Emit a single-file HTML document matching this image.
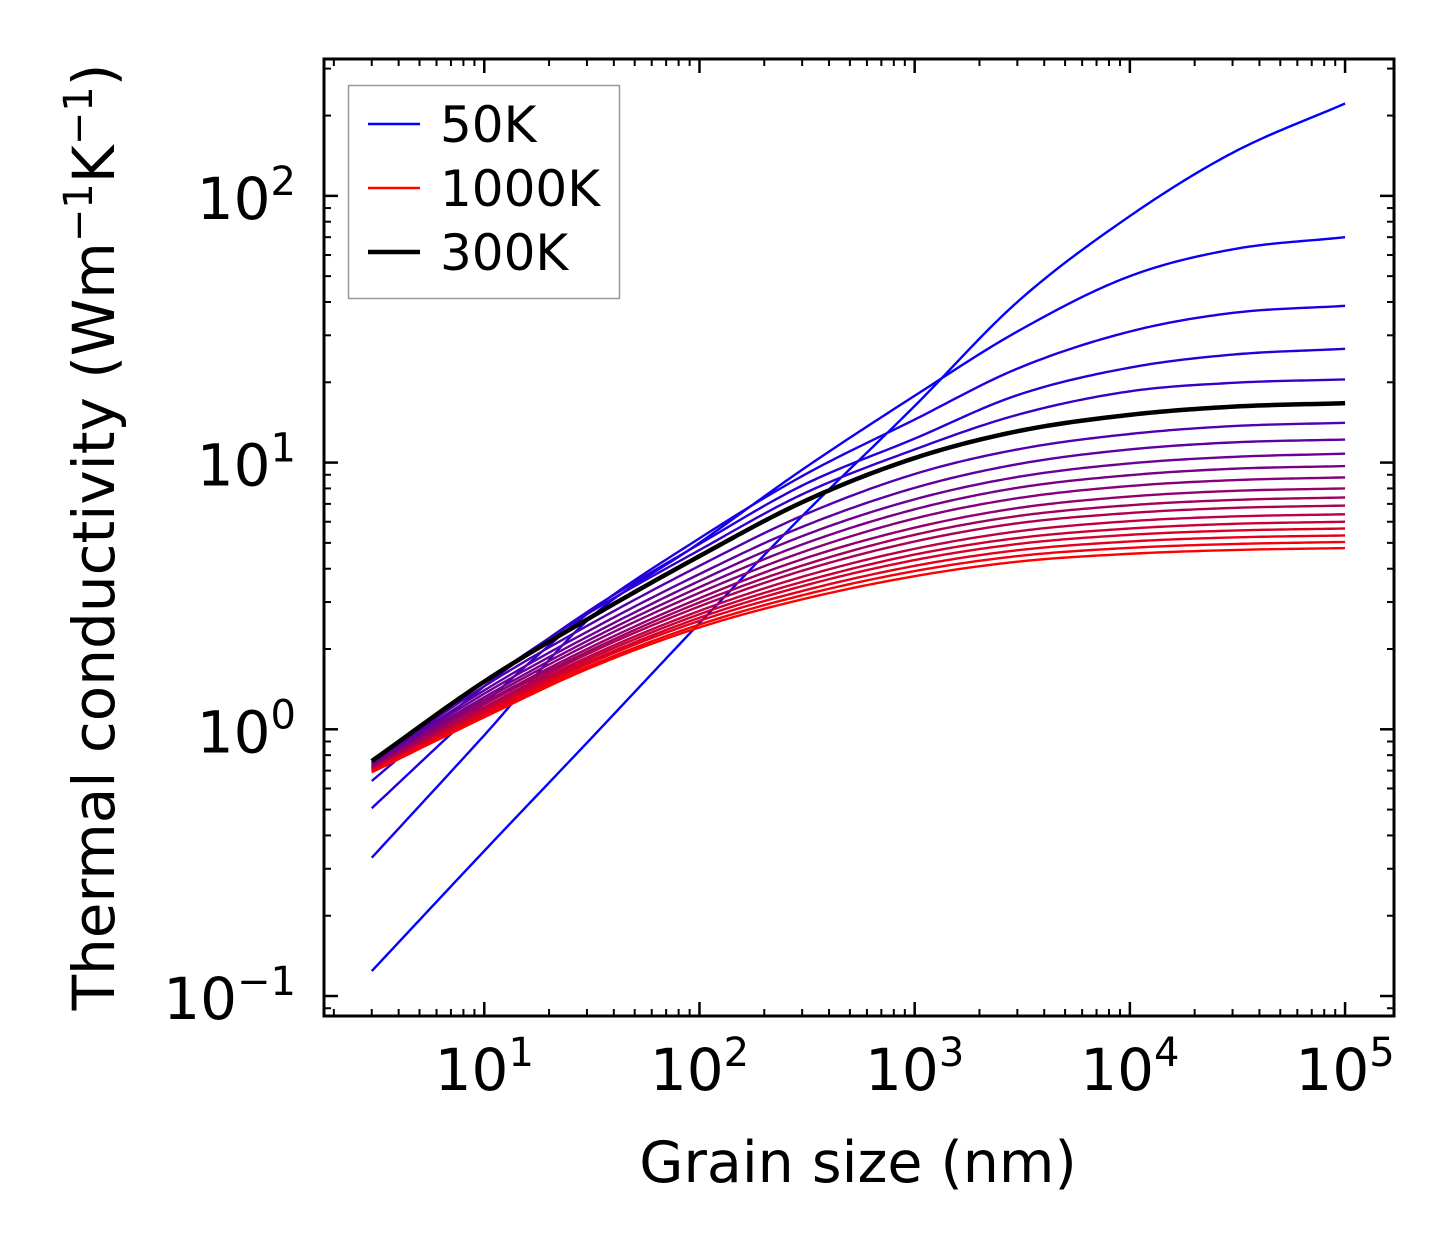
<!DOCTYPE html>
<html><head><meta charset="utf-8"><style>
html,body{margin:0;padding:0;background:#fff;}
svg{display:block;font-family:"DejaVu Sans","Liberation Sans",sans-serif;}
</style></head><body>
<svg id="chart" width="1454" height="1254" viewBox="0 0 1454 1254" xmlns="http://www.w3.org/2000/svg">
<rect x="0" y="0" width="1454" height="1254" fill="#fff"/>
<defs><clipPath id="clip"><rect x="324" y="59" width="1070" height="957"/></clipPath></defs>
<g id="series" clip-path="url(#clip)"></g>
<g id="axes"></g>
<text x="858" y="1182" font-size="57" text-anchor="middle">Grain size (nm)</text>
<text transform="translate(114,537) rotate(-90)" font-size="58" text-anchor="middle">Thermal conductivity (Wm<tspan dy="-22" font-size="40">−1</tspan><tspan dy="22">K</tspan><tspan dy="-22" font-size="40">−1</tspan><tspan dy="22">)</tspan></text>
<g>
<rect x="348.5" y="85.5" width="271" height="213" fill="#fff" stroke="#999" stroke-width="1.5"/>
<line x1="368" y1="124" x2="420" y2="124" stroke="rgb(0,0,255)" stroke-width="2.4"/>
<text x="440" y="142" font-size="50">50K</text>
<line x1="368" y1="188" x2="420" y2="188" stroke="rgb(255,0,0)" stroke-width="2.4"/>
<text x="440" y="206" font-size="50">1000K</text>
<line x1="368" y1="252" x2="420" y2="252" stroke="#000" stroke-width="4.5"/>
<text x="440" y="270" font-size="50">300K</text>
</g>
</svg>
<script>
const grainSizes = [3, 10, 30, 100, 300, 1000, 3000, 10000, 30000, 100000];
const temperatures = [50,100,150,200,250,300,350,400,450,500,550,600,650,700,750,800,850,900,950,1000];
const k50 = [0.124,0.35,0.89,2.5,6.3,16.3,40,84,145,222];
const k100 = [0.33,0.95,2.55,5.0,9.4,17.8,31,50,63,70];
const k150 = [0.506,1.25,2.7,5.2,8.9,14.5,22.5,31,36.4,38.7];
const k200 = [0.64,1.45,2.75,4.95,8.2,12.3,17.9,22.7,25.4,26.7];
const k250 = [0.72,1.5,2.7,4.7,7.6,11.2,15.1,18.5,19.9,20.5];
const k300 = [0.76,1.51,2.58,4.46,7.1,10.4,13.1,15.1,16.2,16.7];
const k350 = [0.750,1.45,2.44,4.10,6.32,9.06,11.2,12.8,13.7,14.1];
const k400 = [0.743,1.40,2.32,3.82,5.74,8.04,9.86,11.2,11.9,12.2];
const k450 = [0.735,1.36,2.22,3.60,5.30,7.28,8.83,9.93,10.5,10.8];
const k500 = [0.730,1.32,2.14,3.41,4.93,6.68,8.04,8.97,9.48,9.7];
const k550 = [0.724,1.29,2.07,3.25,4.61,6.17,7.35,8.17,8.59,8.8];
const k600 = [0.718,1.26,2.00,3.10,4.34,5.70,6.75,7.46,7.83,8.0];
const k650 = [0.714,1.24,1.95,2.99,4.11,5.36,6.30,6.92,7.24,7.4];
const k700 = [0.710,1.21,1.91,2.89,3.93,5.06,5.92,6.47,6.76,6.9];
const k750 = [0.706,1.19,1.86,2.78,3.73,4.75,5.52,6.03,6.28,6.4];
const k800 = [0.703,1.17,1.82,2.70,3.57,4.52,5.21,5.66,5.89,6.0];
const k850 = [0.700,1.16,1.78,2.62,3.44,4.31,4.95,5.36,5.56,5.66];
const k900 = [0.697,1.14,1.75,2.55,3.30,4.10,4.69,5.06,5.24,5.33];
const k950 = [0.693,1.12,1.71,2.47,3.18,3.92,4.46,4.79,4.95,5.04];
const k1000 = [0.69,1.11,1.68,2.41,3.07,3.75,4.25,4.55,4.7,4.78];
const xTickExps = [1,2,3,4,5];
const yTickExps = [-1,0,1,2];

const NS = "http://www.w3.org/2000/svg";
const X0=324, X1=1394, Y0=59, Y1=1016;
const xLogMin = 1 - 160.5/215.5, xLogMax = 5 + 49/215.5;
const yLogMin = -1 - 20/267, yLogMax = 2 + 137/267;
function xs(v){ return X0 + (Math.log10(v)-xLogMin)/(xLogMax-xLogMin)*(X1-X0); }
function ys(v){ return Y1 - (Math.log10(v)-yLogMin)/(yLogMax-yLogMin)*(Y1-Y0); }

function monotone(xsArr, ysArr){
  const n=xsArr.length, d=[], m=new Array(n);
  for(let i=0;i<n-1;i++) d.push((ysArr[i+1]-ysArr[i])/(xsArr[i+1]-xsArr[i]));
  m[0]=d[0]; m[n-1]=d[n-2];
  for(let i=1;i<n-1;i++) m[i]= d[i-1]*d[i]<=0 ? 0 : (d[i-1]+d[i])/2;
  for(let i=0;i<n-1;i++){
    if(d[i]===0){m[i]=0;m[i+1]=0;continue;}
    const a=m[i]/d[i], b=m[i+1]/d[i], s=a*a+b*b;
    if(s>9){const t=3/Math.sqrt(s); m[i]=t*a*d[i]; m[i+1]=t*b*d[i];}
  }
  return function(x){
    let i=0; while(i<n-2 && x>xsArr[i+1]) i++;
    const h=xsArr[i+1]-xsArr[i], t=(x-xsArr[i])/h;
    const h00=2*t*t*t-3*t*t+1, h10=t*t*t-2*t*t+t, h01=-2*t*t*t+3*t*t, h11=t*t*t-t*t;
    return h00*ysArr[i]+h10*h*m[i]+h01*ysArr[i+1]+h11*h*m[i+1];
  };
}
function pathFor(vals){
  const lx=grainSizes.map(Math.log10), ly=vals.map(Math.log10);
  const f=monotone(lx,ly);
  let d="";
  const N=200;
  for(let j=0;j<=N;j++){
    const l=lx[0]+(lx[lx.length-1]-lx[0])*j/N;
    const v=Math.pow(10,f(l));
    d+=(j?"L":"M")+xs(Math.pow(10,l)).toFixed(2)+","+ys(v).toFixed(2);
  }
  return d;
}
const allSeries=[k50,k100,k150,k200,k250,k300,k350,k400,k450,k500,k550,k600,k650,k700,k750,k800,k850,k900,k950,k1000];
const g=document.getElementById("series");
allSeries.forEach((vals,i)=>{
  const T=temperatures[i], t=(T-50)/950;
  const p=document.createElementNS(NS,"path");
  p.setAttribute("d",pathFor(vals));
  p.setAttribute("fill","none");
  p.setAttribute("stroke","rgb("+Math.round(255*t)+",0,"+Math.round(255*(1-t))+")");
  p.setAttribute("stroke-width","2.4");
  
  
  g.appendChild(p);
});
const black=document.createElementNS(NS,"path");
black.setAttribute("d",pathFor(k300));
black.setAttribute("fill","none");
black.setAttribute("stroke","#000");
black.setAttribute("stroke-width","4.5");


g.appendChild(black);

const ax=document.getElementById("axes");
function line(x1,y1,x2,y2,w,name){
  const l=document.createElementNS(NS,"line");
  l.setAttribute("x1",x1);l.setAttribute("y1",y1);l.setAttribute("x2",x2);l.setAttribute("y2",y2);
  l.setAttribute("stroke","#000");l.setAttribute("stroke-width",w);
  
  
  ax.appendChild(l);
}
for(let e=0;e<=5;e++){
  for(let m=1;m<=9;m++){
    const v=m*Math.pow(10,e), lv=Math.log10(v);
    if(lv<xLogMin||lv>xLogMax) continue;
    const x=xs(v), L=(m===1)?14:7, w=(m===1)?2.5:2;
    line(x,Y1,x,Y1-L,w,'x-tick');
    line(x,Y0,x,Y0+L,w,'x-tick-top');
  }
}
for(let e=-2;e<=2;e++){
  for(let m=1;m<=9;m++){
    const v=m*Math.pow(10,e), lv=Math.log10(v);
    if(lv<yLogMin||lv>yLogMax) continue;
    const y=ys(v), L=(m===1)?14:7, w=(m===1)?2.5:2;
    line(X0,y,X0+L,y,w,'y-tick');
    line(X1,y,X1-L,y,w,'y-tick-right');
  }
}
const frame=document.createElementNS(NS,"rect");
frame.setAttribute("x",X0);frame.setAttribute("y",Y0);frame.setAttribute("width",X1-X0);frame.setAttribute("height",Y1-Y0);
frame.setAttribute("fill","none");frame.setAttribute("stroke","#000");frame.setAttribute("stroke-width","3");


ax.appendChild(frame);
function label(x,y,exp,anchor,name){
  const t=document.createElementNS(NS,"text");
  t.setAttribute("x",x);t.setAttribute("y",y);t.setAttribute("font-size","58");t.setAttribute("text-anchor",anchor);
  const s=document.createElementNS(NS,"tspan");s.textContent="10";t.appendChild(s);
  const s2=document.createElementNS(NS,"tspan");s2.setAttribute("dy","-24");s2.setAttribute("font-size","40");
  s2.textContent=(exp<0?"−":"")+Math.abs(exp);t.appendChild(s2);
  
  
  ax.appendChild(t);
}
xTickExps.forEach(e=>label(xs(Math.pow(10,e)),1090,e,"middle",'x-tick-label'));
yTickExps.forEach(e=>label(296,ys(Math.pow(10,e))+23,e,"end",'y-tick-label'));
</script>
</body></html>
